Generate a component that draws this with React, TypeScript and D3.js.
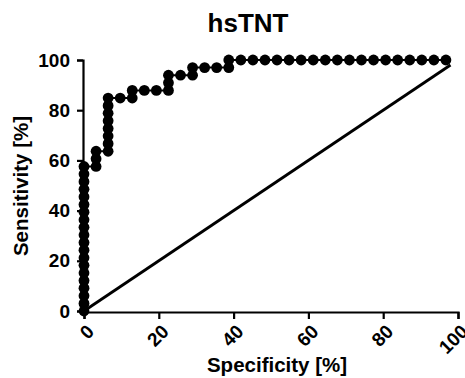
import React, { useEffect, useRef } from 'react';
import * as d3 from 'd3';

// ROC curve data: specificity steps (k/31) and sensitivity steps (j/33)
const specificity = [
  0, 0, 0, 0, 0, 0, 0, 0, 0, 0, 0, 0, 0, 0, 0, 0, 0, 0, 0, 0,
  3.23, 3.23, 3.23,
  6.45, 6.45, 6.45, 6.45, 6.45, 6.45, 6.45, 6.45,
  9.68, 12.9, 12.9, 16.13, 19.35, 22.58, 22.58, 22.58,
  25.81, 29.03, 29.03, 32.26, 35.48, 38.71, 38.71,
  41.94, 45.16, 48.39, 51.61, 54.84, 58.06, 61.29, 64.52, 67.74,
  70.97, 74.19, 77.42, 80.65, 83.87, 87.1, 90.32, 93.55, 96.77,
];
const sensitivity = [
  0, 3.03, 6.06, 9.09, 12.12, 15.15, 18.18, 21.21, 24.24, 27.27, 30.3, 33.33, 36.36, 39.39, 42.42, 45.45, 48.48, 51.52, 54.55, 57.58,
  57.58, 60.61, 63.64,
  63.64, 66.67, 69.7, 72.73, 75.76, 78.79, 81.82, 84.85,
  84.85, 84.85, 87.88, 87.88, 87.88, 87.88, 90.91, 93.94,
  93.94, 93.94, 96.97, 96.97, 96.97, 96.97, 100,
  100, 100, 100, 100, 100, 100, 100, 100, 100,
  100, 100, 100, 100, 100, 100, 100, 100, 100,
];
const identityLine = [0, 98];
const ticks = [0, 20, 40, 60, 80, 100];

export default function App() {
  const ref = useRef<SVGSVGElement>(null);

  useEffect(() => {
    const svg = d3.select(ref.current);
    svg.selectAll('*').remove();

    const x = d3.scaleLinear().domain([0, 100]).range([84, 458]);
    const y = d3.scaleLinear().domain([0, 100]).range([311, 60]);
    const font = 'Liberation Sans, Arial, sans-serif';

    // title
    svg.append('text')
      .attr('x', 248).attr('y', 32)
      .attr('text-anchor', 'middle')
      .attr('font-family', font).attr('font-weight', 'bold').attr('font-size', 26)
      .text('hsTNT');

    // diagonal reference line
    svg.append('line')
      .attr('x1', x(identityLine[0])).attr('y1', y(identityLine[0]))
      .attr('x2', x(identityLine[1])).attr('y2', y(identityLine[1]))
      .attr('stroke', '#000').attr('stroke-width', 2.8);

    // y axis
    const yAxis = svg.append('g')
      .attr('transform', 'translate(83,0)')
      .call(d3.axisLeft(y).tickValues(ticks).tickSize(6).tickPadding(7));
    yAxis.select('.domain').attr('stroke-width', 2.2);
    yAxis.selectAll('.tick line').attr('stroke-width', 2.2);
    yAxis.selectAll('text')
      .attr('font-family', font).attr('font-weight', 'bold').attr('font-size', 19).attr('fill', '#000');

    // x axis
    const xAxis = svg.append('g')
      .attr('transform', 'translate(0,312)')
      .call(d3.axisBottom(x).tickValues(ticks).tickSize(7).tickFormat(d3.format('d')));
    xAxis.select('.domain').attr('stroke-width', 2.2);
    xAxis.selectAll('.tick line').attr('stroke-width', 2.2);
    xAxis.selectAll('text')
      .attr('font-family', font).attr('font-weight', 'bold').attr('font-size', 19).attr('fill', '#000')
      .attr('text-anchor', 'end')
      .attr('dy', '0.35em')
      .attr('transform', 'translate(6,16) rotate(-45)')
      .attr('y', 0).attr('x', 0);

    // curve + points
    const pts = specificity.map((s, i) => [s, sensitivity[i]] as [number, number]);
    const line = d3.line<[number, number]>().x(d => x(d[0])).y(d => y(d[1]));
    svg.append('path')
      .attr('d', line(pts))
      .attr('fill', 'none').attr('stroke', '#000').attr('stroke-width', 2);
    svg.append('g').selectAll('circle')
      .data(pts)
      .enter()
      .append('circle')
      .attr('cx', d => x(d[0])).attr('cy', d => y(d[1]))
      .attr('r', 5.4).attr('fill', '#000');

    // axis titles
    svg.append('text')
      .attr('x', 277).attr('y', 372)
      .attr('text-anchor', 'middle')
      .attr('font-family', font).attr('font-weight', 'bold').attr('font-size', 20.5)
      .text('Specificity [%]');
    svg.append('text')
      .attr('transform', 'translate(28,186) rotate(-90)')
      .attr('text-anchor', 'middle')
      .attr('font-family', font).attr('font-weight', 'bold').attr('font-size', 20.5)
      .text('Sensitivity [%]');
  }, []);

  return (
    <svg ref={ref} width={465} height={378}
      style={{ position: 'absolute', left: 0, top: 0, background: '#fff' }} />
  );
}
